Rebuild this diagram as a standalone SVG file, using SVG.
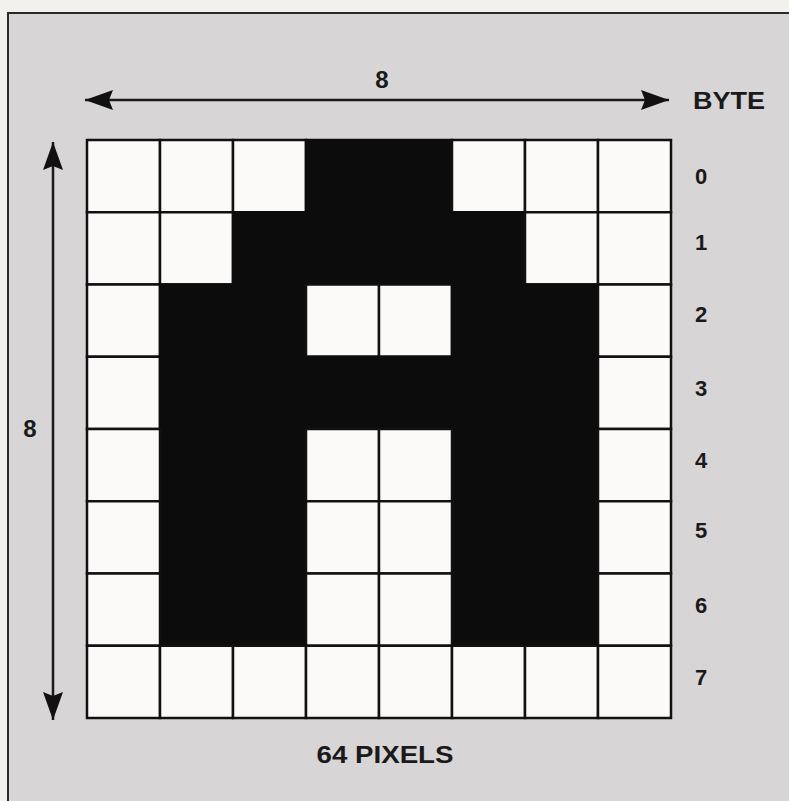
<svg xmlns="http://www.w3.org/2000/svg" width="789" height="801" viewBox="0 0 789 801">
<style>
.w{fill:#fbfaf8;stroke:#111;stroke-width:2.5}
.b{fill:#0c0c0c;stroke:#0c0c0c;stroke-width:2.5}
.t{font-family:"Liberation Sans",Arial,sans-serif;font-weight:bold;fill:#1a1a1a}
.ln{stroke:#1a1a1a;stroke-width:2.5;fill:none}
</style>
<defs>
<marker id="ah" viewBox="0 0 28 20" refX="28" refY="10" markerWidth="28" markerHeight="20" markerUnits="userSpaceOnUse" orient="auto-start-reverse">
<path d="M0,0 L28,10 L0,20 L4,10 Z" fill="#111"/>
</marker>
</defs>
<rect x="0" y="0" width="789" height="801" fill="#f3f1ee"/>
<rect x="8" y="13" width="800" height="800" fill="#d8d5d6" stroke="#2a2a2a" stroke-width="2"/>
<g id="grid">
<g id="row0">
<rect class="w" x="87" y="140" width="73" height="72.25"/><rect class="w" x="160" y="140" width="73" height="72.25"/><rect class="w" x="233" y="140" width="73" height="72.25"/><rect class="b" x="306" y="140" width="146" height="72.25"/><rect class="w" x="452" y="140" width="73" height="72.25"/><rect class="w" x="525" y="140" width="73" height="72.25"/><rect class="w" x="598" y="140" width="73" height="72.25"/>
</g>
<g id="row1">
<rect class="w" x="87" y="212.25" width="73" height="72.25"/><rect class="w" x="160" y="212.25" width="73" height="72.25"/><rect class="b" x="233" y="212.25" width="292" height="72.25"/><rect class="w" x="525" y="212.25" width="73" height="72.25"/><rect class="w" x="598" y="212.25" width="73" height="72.25"/>
</g>
<g id="row2">
<rect class="w" x="87" y="284.5" width="73" height="72.25"/><rect class="b" x="160" y="284.5" width="146" height="72.25"/><rect class="w" x="306" y="284.5" width="73" height="72.25"/><rect class="w" x="379" y="284.5" width="73" height="72.25"/><rect class="b" x="452" y="284.5" width="146" height="72.25"/><rect class="w" x="598" y="284.5" width="73" height="72.25"/>
</g>
<g id="row3">
<rect class="w" x="87" y="356.75" width="73" height="72.25"/><rect class="b" x="160" y="356.75" width="438" height="72.25"/><rect class="w" x="598" y="356.75" width="73" height="72.25"/>
</g>
<g id="rows4to6">
<rect class="b" x="160" y="429" width="146" height="216.75"/><rect class="b" x="452" y="429" width="146" height="216.75"/>
<rect class="w" x="87" y="429" width="73" height="72.25"/><rect class="w" x="306" y="429" width="73" height="72.25"/><rect class="w" x="379" y="429" width="73" height="72.25"/><rect class="w" x="598" y="429" width="73" height="72.25"/>
<rect class="w" x="87" y="501.25" width="73" height="72.25"/><rect class="w" x="306" y="501.25" width="73" height="72.25"/><rect class="w" x="379" y="501.25" width="73" height="72.25"/><rect class="w" x="598" y="501.25" width="73" height="72.25"/>
<rect class="w" x="87" y="573.5" width="73" height="72.25"/><rect class="w" x="306" y="573.5" width="73" height="72.25"/><rect class="w" x="379" y="573.5" width="73" height="72.25"/><rect class="w" x="598" y="573.5" width="73" height="72.25"/>
</g>
<g id="row7">
<rect class="w" x="87" y="645.75" width="73" height="72.25"/><rect class="w" x="160" y="645.75" width="73" height="72.25"/><rect class="w" x="233" y="645.75" width="73" height="72.25"/><rect class="w" x="306" y="645.75" width="73" height="72.25"/><rect class="w" x="379" y="645.75" width="73" height="72.25"/><rect class="w" x="452" y="645.75" width="73" height="72.25"/><rect class="w" x="525" y="645.75" width="73" height="72.25"/><rect class="w" x="598" y="645.75" width="73" height="72.25"/>
</g>
</g>
<g id="connectors">
<line class="ln" x1="85" y1="100" x2="669" y2="100" marker-start="url(#ah)" marker-end="url(#ah)"/>
<line class="ln" x1="53" y1="142" x2="53" y2="720" marker-start="url(#ah)" marker-end="url(#ah)"/>
</g>
<g id="labels">
<text class="t" x="382" y="88" font-size="24" text-anchor="middle">8</text>
<text class="t" x="30" y="437" font-size="24" text-anchor="middle">8</text>
<text class="t" x="693" y="109" font-size="24" textLength="72" lengthAdjust="spacingAndGlyphs">BYTE</text>
<text class="t" x="385" y="763" font-size="24" text-anchor="middle" textLength="137" lengthAdjust="spacingAndGlyphs">64 PIXELS</text>
<g font-size="22" class="t">
<text class="t" x="695" y="184">0</text>
<text class="t" x="695" y="250">1</text>
<text class="t" x="695" y="322">2</text>
<text class="t" x="695" y="396">3</text>
<text class="t" x="695" y="468">4</text>
<text class="t" x="695" y="538">5</text>
<text class="t" x="695" y="613">6</text>
<text class="t" x="695" y="685">7</text>
</g>
</g>
</svg>
